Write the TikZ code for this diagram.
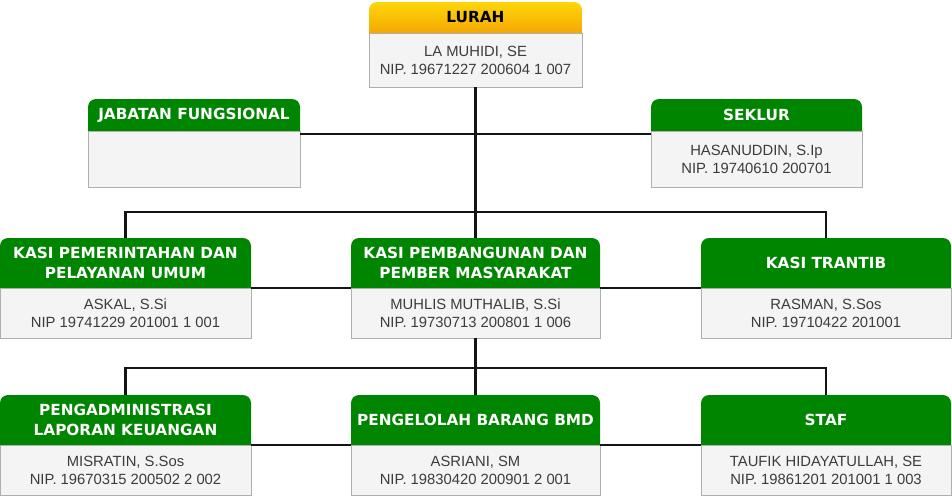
\documentclass[tikz,border=0pt]{standalone}
\usepackage{fontspec}
\newfontfamily\hdfont{DejaVu Sans}
\newfontfamily\bdfont{Liberation Sans}
\usetikzlibrary{positioning}
\definecolor{hdgreen}{RGB}{0,133,0}
\definecolor{hdtop}{RGB}{255,214,10}
\definecolor{hdbot}{RGB}{244,168,0}
\definecolor{boxfill}{RGB}{244,244,244}
\definecolor{boxline}{RGB}{175,175,175}
\definecolor{bodytext}{RGB}{60,60,60}
\definecolor{linkcol}{RGB}{20,20,20}

\tikzset{
  hdshape/.style={path picture={\path[#1, rounded corners=8pt]
      (path picture bounding box.south west) -- (path picture bounding box.north west)
      -- (path picture bounding box.north east) -- (path picture bounding box.south east);}},
  head/.style={hdshape={fill=hdgreen}, text=white, font=\hdfont\bfseries\fontsize{15.3}{20}\selectfont,
    align=center, inner sep=0pt, outer sep=0pt},
  body/.style={draw=boxline, fill=boxfill, text=bodytext, font=\bdfont\fontsize{14.8}{18}\selectfont,
    align=center, inner sep=0pt, outer sep=0pt, below=0pt of #1},
  link/.style={draw=linkcol, line width=2.6pt}
}

\begin{document}
\begin{tikzpicture}[x=1pt, y=-1pt]
	\useasboundingbox (0, 0) rectangle (952, 498);
	% top
	\node[head, hdshape={top color=hdtop, bottom color=hdbot}, text=black, minimum width=213pt, minimum height=31pt] (lurah) at (475.5, 17.5) {LURAH};
	\node[body=lurah, minimum width=213pt, minimum height=54pt] (lurah-b) {LA MUHIDI, SE\\NIP. 19671227 200604 1 007};
	\node[head, minimum width=212pt, minimum height=32pt] (jab) at (194, 115) {JABATAN FUNGSIONAL};
	\node[body=jab, minimum width=212pt, minimum height=56pt] (jab-b) {};
	\node[head, minimum width=211pt, minimum height=32pt] (sek) at (756.5, 115) {SEKLUR};
	\node[body=sek, minimum width=211pt, minimum height=56pt] (sek-b) {HASANUDDIN, S.Ip\\NIP. 19740610 200701};
	% kasi
	\node[head, minimum width=251pt, minimum height=50pt] (pem) at (125.5, 263) {KASI PEMERINTAHAN DAN\\PELAYANAN UMUM};
	\node[body=pem, minimum width=251pt, minimum height=50pt] (pem-b) {ASKAL, S.Si\\NIP 19741229 201001 1 001};
	\node[head, minimum width=249pt, minimum height=50pt] (pmb) at (475.5, 263) {KASI PEMBANGUNAN DAN\\PEMBER MASYARAKAT};
	\node[body=pmb, minimum width=249pt, minimum height=50pt] (pmb-b) {MUHLIS MUTHALIB, S.Si\\NIP. 19730713 200801 1 006};
	\node[head, minimum width=250pt, minimum height=50pt] (tran) at (826, 263) {KASI TRANTIB};
	\node[body=tran, minimum width=250pt, minimum height=50pt] (tran-b) {RASMAN, S.Sos\\NIP. 19710422 201001};
	% staf
	\node[head, minimum width=251pt, minimum height=50pt] (adm) at (125.5, 420) {PENGADMINISTRASI\\LAPORAN KEUANGAN};
	\node[body=adm, minimum width=251pt, minimum height=50pt] (adm-b) {MISRATIN, S.Sos\\NIP. 19670315 200502 2 002};
	\node[head, minimum width=249pt, minimum height=50pt] (bmd) at (475.5, 420) {PENGELOLAH BARANG BMD};
	\node[body=bmd, minimum width=249pt, minimum height=50pt] (bmd-b) {ASRIANI, SM\\NIP. 19830420 200901 2 001};
	\node[head, minimum width=250pt, minimum height=50pt] (staf) at (826, 420) {STAF};
	\node[body=staf, minimum width=250pt, minimum height=50pt] (staf-b) {TAUFIK HIDAYATULLAH, SE\\NIP. 19861201 201001 1 003};
	% links
	\coordinate (bar1) at (475.5, 212);
	\coordinate (bar2) at (475.5, 368);
	\draw[link] (lurah-b.south) -- (bar1);
	\draw[link] (pem.north) |- (bar1) -| (tran.north);
	\draw[link] (bar1) -- (pmb.north);
	\draw[link] ([yshift=-3pt]jab-b.north east) -- ([yshift=-3pt]sek-b.north west);
	\draw[link] (pem-b.north east) -- (pmb-b.north west);
	\draw[link] (pmb-b.north east) -- (tran-b.north west);
	\draw[link] (pmb-b.south) -- (bar2);
	\draw[link] (adm.north) |- (bar2) -| (staf.north);
	\draw[link] (bar2) -- (bmd.north);
	\draw[link] (adm-b.north east) -- (bmd-b.north west);
	\draw[link] (bmd-b.north east) -- (staf-b.north west);
\end{tikzpicture}
\end{document}
